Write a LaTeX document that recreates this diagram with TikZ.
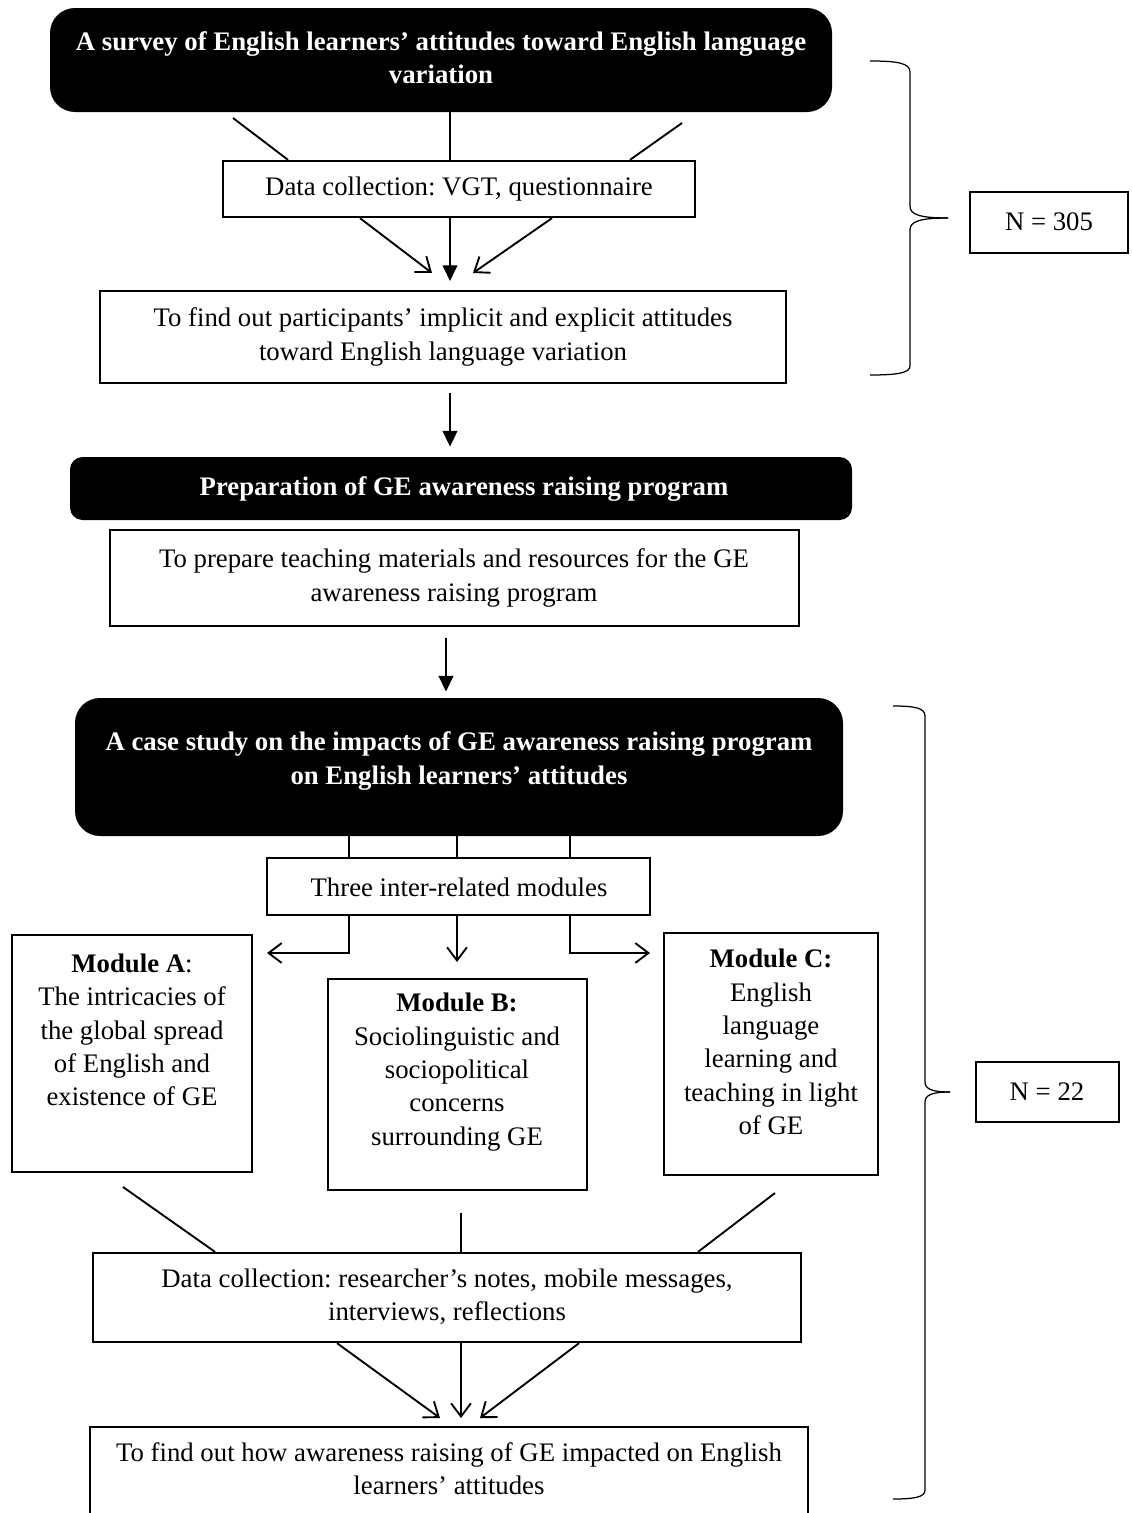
\documentclass[tikz,border=0pt]{standalone}
\usepackage{fontspec}
\setmainfont{Liberation Serif}
\frenchspacing
\usetikzlibrary{arrows.meta,fit,calc}
\begin{document}
\begin{tikzpicture}[x=0.48pt,y=-0.48pt,
  txt/.style={font=\fontsize{12.85}{16}\selectfont, align=center, inner sep=0pt},
  wtxt/.style={txt, text=white, font=\fontsize{12.85}{16}\selectfont\bfseries},
  plain/.style={draw, line width=1.1pt, inner sep=0pt},
  count/.style={draw, line width=0.9pt, inner sep=0pt},
  modbox/.style={draw, line width=0.6pt, inner sep=0pt},
  dark/.style={fill=black, draw=none, inner sep=0pt, rounded corners=12pt},
  link/.style={line width=0.9pt},
  open/.style={link, -{Straight Barb[length=6.3pt,width=9.5pt,line width=0.9pt]}},
  heavy/.style={link, -{Triangle[length=7.5pt,width=7pt]}},
  brace/.style={line width=0.6pt}
]
\clip (0,0) rectangle (1131,1513);
\fill[white] (0,0) rectangle (1131,1513);

% ---------- survey stage ----------
\node[dark, fit={(50,8)(832,112)}] (survey) {};
\node[wtxt] (surveytxt) at (441,58)
  {A survey of English learners’ attitudes toward English language\\variation};
\node[plain, fit={(223,161)(695,217)}] (vgt) {};
\node[txt] (vgttxt) at (459,189) {Data collection: VGT, questionnaire};
\node[plain, fit={(100,291)(786,383)}] (aims1) {};
\node[txt] (aims1txt) at (443,337)
  {To find out participants’ implicit and explicit attitudes\\toward English language variation};

\coordinate (f1a) at (233,118);
\coordinate (f1c) at (682,123);
\draw[link] (f1a) -- (288,0 |- vgt.north);
\draw[link] (450,0 |- survey.south) -- (450,0 |- vgt.north);
\draw[link] (f1c) -- (630,0 |- vgt.north);

\coordinate (t2a) at (432,273);
\coordinate (t2b) at (450,281);
\coordinate (t2c) at (473,273);
\draw[open] (360,0 |- vgt.south) -- (t2a);
\draw[heavy] (450,0 |- vgt.south) -- (t2b);
\draw[open] (552,0 |- vgt.south) -- (t2c);

% ---------- preparation stage ----------
\node[dark, rounded corners=6pt, fit={(70,457)(852,520)}] (prep) {};
\node[wtxt] (preptxt) at (464,489) {Preparation of GE awareness raising program};
\node[plain, fit={(110,530)(799,626)}] (mat) {};
\node[txt] (mattxt) at (454,578)
  {To prepare teaching materials and resources for the GE\\awareness raising program};

\draw[heavy, shorten <=4.3pt, shorten >=4.8pt] (450,0 |- aims1.south) -- (450,0 |- prep.north);

% ---------- case study stage ----------
\node[dark, fit={(75,698)(843,836)}] (case) {};
\node[wtxt] (casetxt) at (459,761)
  {A case study on the impacts of GE awareness raising program\\on English learners’ attitudes};
\draw[heavy, shorten <=5.3pt, shorten >=2.9pt] (446,0 |- mat.south) -- (446,0 |- case.north);

\node[plain, fit={(267,858)(650,915)}] (three) {};
\node[txt] (threetxt) at (459,887) {Three inter-related modules};
\foreach \x in {349,457,570}
  \draw[link] (\x,0 |- case.south) -- (\x,0 |- three.north);

\node[modbox, fit={(12,935)(252,1172)}] (ma) {};
\node[txt] (matxt) at (132,1030)
  {\textbf{Module A}:\\The intricacies of\\the global spread\\of English and\\existence of GE};
\node[modbox, fit={(328,979)(587,1190)}] (mb) {};
\node[txt] (mbtxt) at (457,1072)
  {\textbf{Module B:}\\Sociolinguistic and\\sociopolitical\\concerns\\surrounding GE};
\node[modbox, fit={(664,933)(878,1175)}] (mc) {};
\node[txt] (mctxt) at (771,1042)
  {\textbf{Module C:}\\English\\language\\learning and\\teaching in light\\of GE};

\coordinate (ta) at (267,953);
\coordinate (tb) at (457,962);
\coordinate (tc) at (650,953);
\draw[open] (349,0 |- three.south) |- (ta);
\draw[open] (457,0 |- three.south) -- (tb);
\draw[open] (570,0 |- three.south) |- (tc);

\node[plain, fit={(93,1253)(801,1342)}] (dc) {};
\node[txt] (dctxt) at (447,1297)
  {Data collection: researcher’s notes, mobile messages,\\interviews, reflections};
\coordinate (ga) at (123,1187);
\coordinate (gb) at (461,1213);
\coordinate (gc) at (775,1193);
\draw[link] (ga) -- (215,0 |- dc.north);
\draw[link] (gb) -- (461,0 |- dc.north);
\draw[link] (gc) -- (698,0 |- dc.north);

\node[plain, fit={(90,1427)(808,1517)}] (goal) {};
\node[txt] (goaltxt) at (449,1469)
  {To find out how awareness raising of GE impacted on English\\learners’ attitudes};
\coordinate (ha) at (440,1418);
\coordinate (hb) at (461,1418);
\coordinate (hc) at (480,1418);
\draw[open] (337,0 |- dc.south) -- (ha);
\draw[open] (461,0 |- dc.south) -- (hb);
\draw[open] (579,0 |- dc.south) -- (hc);

% ---------- sample sizes ----------
\node[count, fit={(970,192)(1128,253)}] (n1) {};
\node[txt] (n1txt) at (1049,222) {N = 305};
\node[count, fit={(976,1062)(1119,1122)}] (n2) {};
\node[txt] (n2txt) at (1047,1092) {N = 22};

\draw[brace] (870,61) .. controls (897,61) and (910,63) .. (910,72) -- (910,206)
  .. controls (910,214) and (918,218) .. (948,218);
\draw[brace] (948,218) .. controls (918,218) and (910,222) .. (910,230) -- (910,366)
  .. controls (910,373) and (897,375) .. (870,375);

\draw[brace] (893,706) .. controls (915,706) and (925,708) .. (925,716) -- (925,1082)
  .. controls (925,1089) and (932,1092) .. (950,1092);
\draw[brace] (950,1092) .. controls (932,1092) and (925,1095) .. (925,1102) -- (925,1490)
  .. controls (925,1497) and (915,1499) .. (893,1499);
\end{tikzpicture}
\end{document}
